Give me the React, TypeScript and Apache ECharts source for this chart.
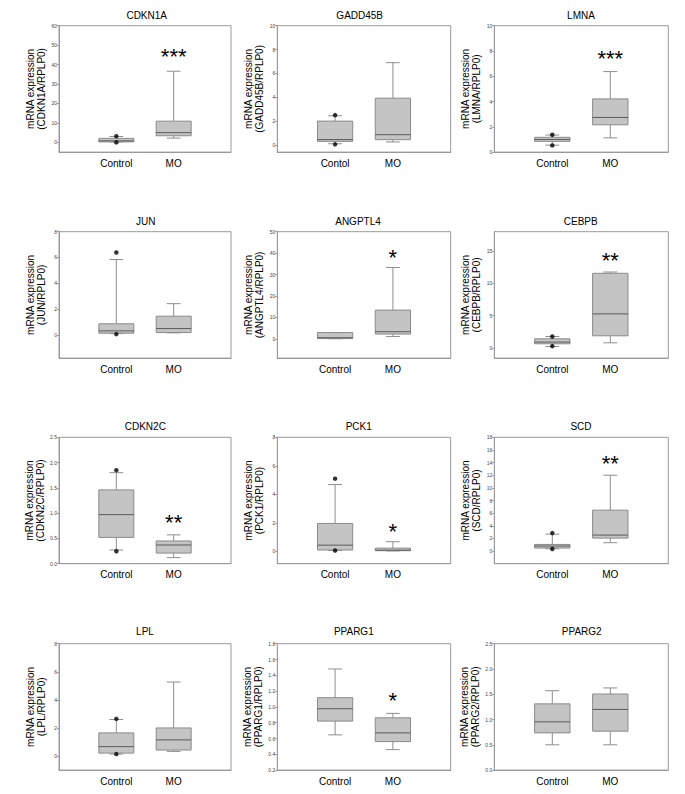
import React, { useEffect, useRef } from "react";
import * as echarts from "echarts";

// ---------- data ----------
const genes = ["CDKN1A", "GADD45B", "LMNA", "JUN", "ANGPTL4", "CEBPB", "CDKN2C", "PCK1", "SCD", "LPL", "PPARG1", "PPARG2"];
const controlLabels = ["Control", "Contol", "Control", "Control", "Control", "Control", "Control", "Contol", "Control", "Control", "Control", "Control"];
const moLabel = "MO";
// [min (whisker), Q1, median, Q3, max (whisker)]
const controlStats = [
  [0.25, 0.25, 0.8, 2.05, 3.0],
  [0.1, 0.3, 0.45, 2.0, 2.45],
  [0.55, 0.85, 1.0, 1.17, 1.35],
  [0.1, 0.13, 0.31, 0.86, 5.84],
  [0.05, 0.1, 0.5, 2.9, 2.9],
  [0.2, 0.62, 0.88, 1.39, 1.75],
  [0.27, 0.52, 0.97, 1.46, 1.8],
  [0.07, 0.1, 0.44, 1.96, 4.69],
  [0.37, 0.47, 0.79, 1.05, 2.68],
  [0.14, 0.21, 0.67, 1.65, 2.6],
  [0.646, 0.82, 0.977, 1.117, 1.48],
  [0.5, 0.736, 0.955, 1.31, 1.57],
];
const moStats = [
  [2.2, 3.4, 5.0, 10.9, 36.6],
  [0.25, 0.44, 0.86, 3.92, 6.9],
  [1.13, 2.16, 2.74, 4.21, 6.37],
  [0.16, 0.18, 0.49, 1.45, 2.42],
  [1.1, 2.2, 3.3, 13.4, 33.3],
  [0.77, 1.86, 5.26, 11.55, 11.75],
  [0.12, 0.21, 0.37, 0.45, 0.57],
  [0.04, 0.05, 0.09, 0.23, 0.68],
  [1.32, 2.05, 2.53, 6.47, 12.0],
  [0.33, 0.43, 1.15, 2.0, 5.27],
  [0.459, 0.561, 0.671, 0.862, 0.918],
  [0.5, 0.77, 1.2, 1.505, 1.625],
];
const controlOutliers = [
  [3.2, 0.0],
  [2.5, 0.05],
  [1.37, 0.53],
  [6.39, 0.06],
  [],
  [1.75, 0.26],
  [1.85, 0.245],
  [5.1, 0.07],
  [2.84, 0.32],
  [2.65, 0.14],
  [],
  [],
];
const yMins = [-5, -0.6, 0, -1.8, -9, -1.6, 0, -0.86, -2, -1, 0.2, 0];
const yMaxs = [60, 10, 10, 8, 50, 18, 2.5, 8, 18, 8, 1.8, 2.5];
const yTicks = [
  [0, 10, 20, 30, 40, 50, 60],
  [0, 2, 4, 6, 8, 10],
  [0, 2, 4, 6, 8, 10],
  [0, 2, 4, 6, 8],
  [0, 10, 20, 30, 40, 50],
  [0, 5, 10, 15],
  [0, 0.5, 1.0, 1.5, 2.0, 2.5],
  [0, 2, 4, 6, 8],
  [0, 2, 4, 6, 8, 10, 12, 14, 16, 18],
  [0, 2, 4, 6, 8],
  [0.2, 0.4, 0.6, 0.8, 1.0, 1.2, 1.4, 1.6, 1.8],
  [0, 0.5, 1.0, 1.5, 2.0, 2.5],
];
const yDecimals = [0, 0, 0, 0, 0, 0, 1, 0, 0, 0, 1, 1];
const stars = ["***", "", "***", "", "*", "**", "**", "*", "**", "", "*", ""];
const starValues = [46.7, 0, 7.8, 0, 40.2, 14.3, 0.91, 1.77, 14.7, 0, 1.15, 0];

// ---------- layout ----------
const colLeft = [59, 277.3, 494.3];
const colWidth = [172, 173.4, 174];
const rowTop = [25.7, 231.7, 437.3, 643.7];
const plotHeight = 126.4;
const titleX = [146.7, 359.7, 581, 145.7, 358, 580.7, 145.3, 358.7, 581, 145, 353.8, 581.7];
const titleY = [15, 221, 426.7, 631.7];

const FONT = "'Liberation Sans', Arial, Helvetica, sans-serif";
const AXIS_COLOR = "#9a9a9a";

const renderBox = (params: any, api: any) => {
  const x = api.value(0);
  const pMin = api.coord([x, api.value(1)]);
  const yQ1 = api.coord([x, api.value(2)])[1];
  const yMed = api.coord([x, api.value(3)])[1];
  const yQ3 = api.coord([x, api.value(4)])[1];
  const yMax = api.coord([x, api.value(5)])[1];
  const xc = pMin[0];
  const yMin = pMin[1];
  const unit = api.size([1, 0])[0];
  const hw = unit * 0.305;
  const cw = unit * 0.12;
  const ls = { stroke: "#8e8e8e", lineWidth: 1, fill: null };
  return {
    type: "group",
    children: [
      { type: "line", shape: { x1: xc, y1: yQ3, x2: xc, y2: yMax }, style: ls },
      { type: "line", shape: { x1: xc - cw, y1: yMax, x2: xc + cw, y2: yMax }, style: ls },
      { type: "line", shape: { x1: xc, y1: yQ1, x2: xc, y2: yMin }, style: ls },
      { type: "line", shape: { x1: xc - cw, y1: yMin, x2: xc + cw, y2: yMin }, style: ls },
      {
        type: "rect",
        shape: { x: xc - hw, y: yQ3, width: 2 * hw, height: Math.max(yQ1 - yQ3, 0.5) },
        style: { fill: "#c4c4c4", stroke: "#8a8a8a", lineWidth: 1 },
      },
      { type: "line", shape: { x1: xc - hw, y1: yMed, x2: xc + hw, y2: yMed }, style: { stroke: "#5a5a5a", lineWidth: 1 } },
    ],
  };
};

function buildOption() {
  const grid: any[] = [];
  const xAxis: any[] = [];
  const yAxis: any[] = [];
  const series: any[] = [];
  const graphic: any[] = [];

  genes.forEach((gene, i) => {
    const col = i % 3;
    const row = Math.floor(i / 3);
    grid.push({
      left: colLeft[col],
      top: rowTop[row],
      width: colWidth[col],
      height: plotHeight,
      show: true,
      borderColor: AXIS_COLOR,
      borderWidth: 1,
      backgroundColor: "transparent",
      outerBoundsMode: "none",
    });
    const ctrl = controlLabels[i];
    xAxis.push({
      type: "value",
      gridIndex: i,
      min: 0,
      max: 3,
      axisLine: { show: true, onZero: false, lineStyle: { color: AXIS_COLOR, width: 1 } },
      axisTick: { show: false },
      splitLine: { show: false },
      axisLabel: {
        customValues: [1, 2],
        formatter: (v: number) => (v === 1 ? ctrl : v === 2 ? moLabel : ""),
        fontSize: 10,
        fontFamily: FONT,
        color: "#000",
        margin: 6,
      },
    });
    const dec = yDecimals[i];
    yAxis.push({
      type: "value",
      gridIndex: i,
      min: yMins[i],
      max: yMaxs[i],
      axisLine: { show: true, onZero: false, lineStyle: { color: AXIS_COLOR, width: 1 } },
      axisTick: { show: true, length: 2, customValues: yTicks[i], lineStyle: { color: AXIS_COLOR } },
      splitLine: { show: false },
      axisLabel: {
        customValues: yTicks[i],
        formatter: (v: number) => v.toFixed(dec),
        fontSize: 5,
        fontFamily: FONT,
        color: "#444",
        margin: 2,
      },
      name: "mRNA expression\n(" + gene + "/RPLP0)",
      nameLocation: "middle",
      nameGap: 12,
      nameTextStyle: { fontSize: 10, lineHeight: 11, fontFamily: FONT, color: "#000" },
    });
    series.push({
      type: "custom",
      xAxisIndex: i,
      yAxisIndex: i,
      renderItem: renderBox,
      encode: { x: 0, y: [1, 2, 3, 4, 5] },
      data: [
        [1, ...controlStats[i]],
        [2, ...moStats[i]],
      ],
      silent: true,
      z: 2,
    });
    if (controlOutliers[i].length) {
      series.push({
        type: "scatter",
        xAxisIndex: i,
        yAxisIndex: i,
        symbol: "circle",
        symbolSize: 4.5,
        itemStyle: { color: "#000" },
        data: controlOutliers[i].map((v) => [1, v]),
        silent: true,
        z: 5,
      });
    }
    if (stars[i]) {
      const txt = stars[i];
      series.push({
        type: "custom",
        xAxisIndex: i,
        yAxisIndex: i,
        renderItem: (params: any, api: any) => {
          const p = api.coord([api.value(0), api.value(1)]);
          return {
            type: "text",
            x: p[0],
            y: p[1] + 5,
            style: {
              text: txt,
              fontSize: 22,
              fontFamily: FONT,
              fill: "#000",
              align: "center",
              verticalAlign: "middle",
            },
          };
        },
        encode: { x: 0, y: 1 },
        data: [[2, starValues[i]]],
        silent: true,
        z: 6,
      });
    }
    graphic.push({
      type: "text",
      x: titleX[i],
      y: titleY[row],
      style: {
        text: gene,
        fontSize: 10,
        fontFamily: FONT,
        fill: "#000",
        align: "center",
        verticalAlign: "middle",
      },
    });
  });

  return {
    animation: false,
    backgroundColor: "#fff",
    textStyle: { fontFamily: FONT },
    grid,
    xAxis,
    yAxis,
    series,
    graphic,
  };
}

export default function App() {
  const ref = useRef<HTMLDivElement>(null);
  useEffect(() => {
    if (!ref.current) return;
    const chart = echarts.init(ref.current, undefined, { renderer: "svg" });
    chart.setOption(buildOption() as any);
    return () => chart.dispose();
  }, []);
  return (
    <div
      ref={ref}
      style={{ position: "absolute", left: 0, top: 0, width: 685, height: 794 }}
    />
  );
}
